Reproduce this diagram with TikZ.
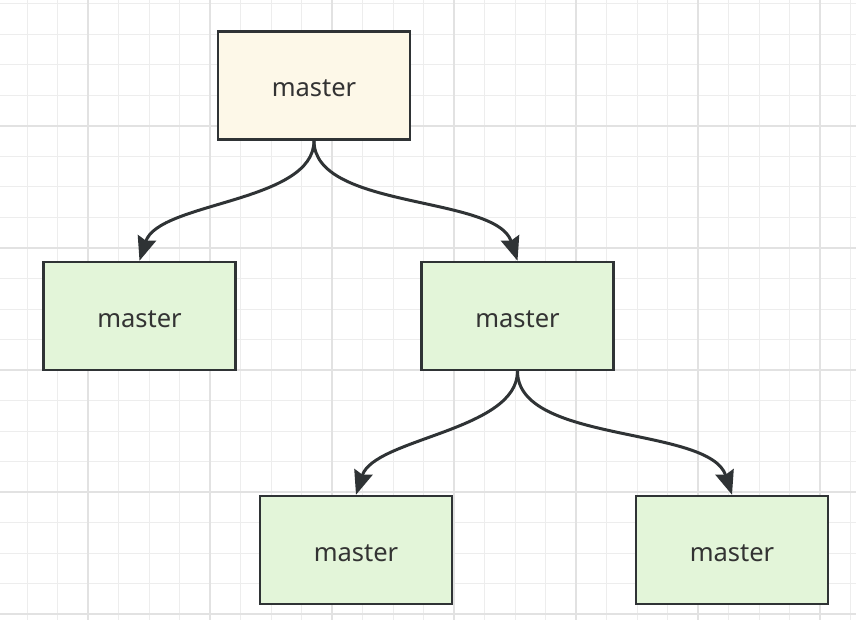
\documentclass[tikz,border=0pt]{standalone}
\usepackage{fontspec}
\setmainfont{Noto Sans}
\usetikzlibrary{arrows.meta}
\usetikzlibrary{positioning}
\definecolor{gridminor}{HTML}{EDEDED}
\definecolor{gridmajor}{HTML}{E2E2E2}
\definecolor{boxline}{HTML}{2F3335}
\definecolor{rootfill}{HTML}{FDF8E8}
\definecolor{childfill}{HTML}{E3F5D9}
\definecolor{textgray}{HTML}{333333}
\tikzset{
    branchbox/.style={draw=boxline, line width=2.5pt, rectangle, minimum width=192pt, minimum height=108pt, fill=childfill, text=textgray, font=\fontsize{25.5}{30}\selectfont, text height=22pt, text depth=0pt},
    link/.style={draw=boxline, line width=3pt, -{Stealth[length=24pt, width=19pt, inset=3pt]}}
}

\begin{document}
\begin{tikzpicture}[x=1pt, y=-1pt]
            \useasboundingbox (0,0) rectangle (856,620);
            \fill[white] (0,0) rectangle (856,620);
            % background grid
            \foreach \i in {0,...,29} {
                \draw[gridminor, line width=1pt] ({-34+30.5*\i},0) -- ({-34+30.5*\i},620);
            }
            \foreach \i in {0,...,20} {
                \draw[gridminor, line width=1pt] (0,{4+30.5*\i}) -- (856,{4+30.5*\i});
            }
            \foreach \x in {88,210,332,454,576,698,820} {
                \draw[gridmajor, line width=1.5pt] (\x,0) -- (\x,620);
            }
            \foreach \y in {126,248,370,492,614} {
                \draw[gridmajor, line width=1.5pt] (0,\y) -- (856,\y);
            }

            % branches
            \node[branchbox, fill=rootfill] (root) at (314,85.5) {master};
            \node[branchbox] (leftchild) at (139.5,316) {master};
            \node[branchbox] (rightchild) at (517.5,316) {master};
            \node[branchbox] (leafleft) at (356,550) {master};
            \node[branchbox] (leafright) at (732,550) {master};

            \draw[link] (root.south) to[out=-90, in=72, looseness=0.75] (leftchild.north);
            \draw[link] (root.south) to[out=-90, in=108, looseness=0.75] (rightchild.north);
            \draw[link] (rightchild.south) to[out=-90, in=72, looseness=0.75] (leafleft.north);
            \draw[link] (rightchild.south) to[out=-90, in=108, looseness=0.75] (leafright.north);
        \end{tikzpicture}
\end{document}
